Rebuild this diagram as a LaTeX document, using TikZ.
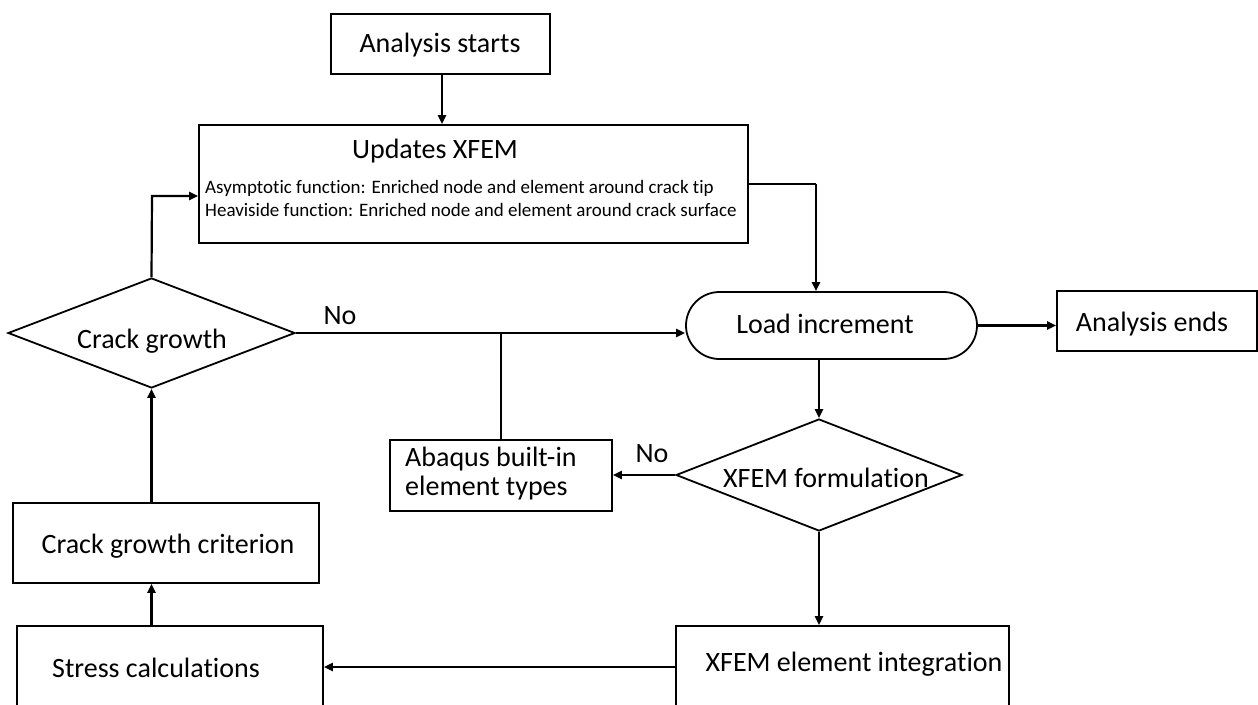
\documentclass[tikz,border=0pt]{standalone}
\usepackage{fontspec}
\setmainfont{Carlito}[Ligatures={NoCommon}]
\usetikzlibrary{shapes.geometric,shapes.misc,arrows.meta,calc}
\begin{document}
\begin{tikzpicture}[x=1pt,y=-1pt,
  box/.style={draw, line width=1.8pt, rectangle, inner sep=0pt},
  dia/.style={draw, line width=1.8pt, diamond, inner sep=0pt},
  pill/.style={draw, line width=1.8pt, rounded rectangle, inner sep=0pt},
  txt/.style={inner sep=0pt, font=\fontsize{28}{29}\selectfont},
  small/.style={inner sep=0pt, font=\fontsize{19}{23}\selectfont, align=left, anchor=west},
  arr/.style={line width=2.2pt, -{Triangle[length=9pt,width=8pt]}},
  ln/.style={line width=2.2pt}]
\clip (0,0) rectangle (1258,704);
\fill[white] (0,0) rectangle (1258,704);

% boxes
\node[box, minimum width=219pt, minimum height=60pt] (start) at (440.5,44) {};
\node[txt] (startT) at (440,45) {Analysis starts};

\node[box, minimum width=549pt, minimum height=118pt] (upd) at (473.5,184) {};
\node[txt] (updT) at (435,151) {Updates XFEM};
\node[small] (updS) at (205,198) {Asymptotic function: Enriched node and element around crack tip\\Heaviside function: Enriched node and element around crack surface};

\node[pill, minimum width=291pt, minimum height=67pt] (load) at (831.5,325.5) {};
\node[txt] (loadT) at (825,324) {Load increment};

\node[box, minimum width=200pt, minimum height=60pt] (ae) at (1157,321) {};
\node[txt] (aeT) at (1152,324) {Analysis ends};

\node[dia, minimum width=287pt, minimum height=110pt] (cg) at (151.5,333) {};
\node[txt] (cgT) at (152,341) {Crack growth};

\node[dia, minimum width=286pt, minimum height=112pt] (xf) at (819,475) {};
\node[txt] (xfT) at (826,478) {XFEM formulation};

\node[box, minimum width=222pt, minimum height=71pt] (abq) at (501,475.5) {};
\node[txt, align=left, anchor=west] (abqT) at (405,473.5) {Abaqus built-in\\element types};

\node[box, minimum width=306pt, minimum height=80pt] (crit) at (166,543) {};
\node[txt] (critT) at (168,546) {Crack growth criterion};

\node[box, minimum width=306pt, minimum height=82pt] (sc) at (170,667) {};
\node[txt] (scT) at (156,668) {Stress calculations};

\node[box, minimum width=333pt, minimum height=82pt] (xi) at (842.5,667) {};
\node[txt] (xiT) at (854,664) {XFEM element integration};

% labels
\node[txt] (no1) at (340,316) {No};
\node[txt] (no2) at (652,454) {No};

% connectors
\coordinate (k1) at (816,184);
\coordinate (k2) at (152,196);
\draw[arr] (start.south -| 442,0) -- (upd.north -| 442,0);
\draw[ln] (upd.east) -- (k1);
\draw[arr] (k1) -- (k1 |- load.north);
\draw[arr] (cg.north) -- (k2) -- (k2 -| upd.west);
\draw[arr] (cg.east) -- (cg.east -| load.west);
\draw[ln] (abq.north) -- (abq.north |- cg.east);
\draw[arr] (load.east) -- (load.east -| ae.west);
\draw[arr] (xf.north |- load.south) -- (xf.north);
\draw[arr] (xf.west) -- (xf.west -| abq.east);
\draw[arr] (xf.south) -- (xf.south |- xi.north);
\draw[arr] (xi.west) -- (sc.east);
\draw[arr] (cg.south |- sc.north) -- (cg.south |- crit.south);
\draw[arr] (cg.south |- crit.north) -- (cg.south);
\end{tikzpicture}
\end{document}
